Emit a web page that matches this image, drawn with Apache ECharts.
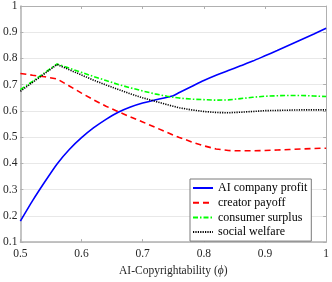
<!DOCTYPE html>
<html><head><meta charset="utf-8">
<script src="https://cdn.jsdelivr.net/npm/echarts@6/dist/echarts.min.js"></script>
<style>html,body{margin:0;padding:0;background:#fff}#c{width:332px;height:282px}</style>
</head><body><div id="c"></div>
<script>
const xValues = [0.5,0.52,0.54,0.56,0.58,0.6,0.62,0.64,0.66,0.68,0.7,0.72,0.74,0.75,0.76,0.78,0.8,0.82,0.84,0.86,0.88,0.9,0.92,0.94,0.96,0.98,1.0];
const aiProfit = [0.18,0.258,0.33,0.398,0.453,0.498,0.536,0.568,0.595,0.615,0.630,0.642,0.652,0.658,0.670,0.693,0.716,0.736,0.754,0.772,0.79,0.81,0.83,0.851,0.872,0.893,0.915];
const creatorPayoff = [0.743,0.736,0.730,0.722,0.695,0.668,0.642,0.618,0.597,0.577,0.558,0.538,0.518,0.508,0.499,0.482,0.467,0.455,0.449,0.448,0.448,0.449,0.451,0.453,0.455,0.457,0.458];
const consumerSurplus = [0.681,0.713,0.746,0.779,0.763,0.747,0.731,0.716,0.701,0.688,0.676,0.665,0.656,0.652,0.649,0.645,0.643,0.641,0.642,0.647,0.652,0.656,0.658,0.659,0.659,0.657,0.655];
const socialWelfare = [0.675,0.709,0.743,0.777,0.757,0.737,0.717,0.699,0.682,0.665,0.650,0.637,0.624,0.618,0.612,0.604,0.598,0.594,0.593,0.595,0.598,0.601,0.602,0.603,0.604,0.604,0.604];
const seriesNames = ['AI company profit','creator payoff','consumer surplus','social welfare'];
const xTickLabels = ['0.5','0.6','0.7','0.8','0.9','1'];
const yTickLabels = ['0.1','0.2','0.3','0.4','0.5','0.6','0.7','0.8','0.9','1'];

const font = 'Liberation Serif';
const axisGray = '#b0b0b0';
const pair = arr => xValues.map((x,i)=>[x,arr[i]]);

const chart = echarts.init(document.getElementById('c'));
chart.setOption({
  animation:false,
  grid:{left:18.7,right:3.3,top:5,bottom:32,containLabel:false},
  xAxis:[{
    type:'value',min:0.5,max:1,interval:0.1,
    name:'{t|AI-Copyrightability (}{i|ϕ}{t|)}',nameLocation:'middle',nameGap:20,
    nameTextStyle:{rich:{t:{fontFamily:font,fontSize:11.5,color:'#262626'},i:{fontFamily:font,fontSize:11.5,fontStyle:'italic',color:'#262626'}}},
    axisLine:{show:true,lineStyle:{color:axisGray,width:1.5}},
    axisTick:{show:true,inside:true,length:3,lineStyle:{color:axisGray}},
    axisLabel:{fontFamily:font,fontSize:11.5,color:'#262626',margin:6,formatter:v=>xTickLabels[Math.round((v-0.5)*10)]},
    splitLine:{show:false}
  },{
    type:'value',position:'top',min:0.5,max:1,interval:0.1,
    axisLine:{show:true,lineStyle:{color:axisGray,width:1}},
    axisTick:{show:true,inside:true,length:3,lineStyle:{color:axisGray}},
    axisLabel:{show:false},splitLine:{show:false}
  }],
  yAxis:[{
    type:'value',min:0.1,max:1,interval:0.1,
    axisLine:{show:true,lineStyle:{color:axisGray,width:1.5}},
    axisTick:{show:true,inside:true,length:3,lineStyle:{color:axisGray}},
    axisLabel:{fontFamily:font,fontSize:11.5,color:'#262626',margin:3,formatter:v=>yTickLabels[Math.round((v-0.1)*10)]},
    splitLine:{show:true,lineStyle:{color:'#e8e8e8',width:1}}
  },{
    type:'value',position:'right',min:0.1,max:1,interval:0.1,
    axisLine:{show:true,lineStyle:{color:axisGray,width:1}},
    axisTick:{show:true,inside:true,length:3,lineStyle:{color:axisGray}},
    axisLabel:{show:false},splitLine:{show:false}
  }],
  legend:{
    orient:'vertical',left:190,top:179,
    padding:[3,4,3,2],itemWidth:20,itemHeight:10,itemGap:2.7,
    backgroundColor:'#fff',borderColor:'#7a7a7a',borderWidth:1,
    itemStyle:{opacity:0},
    textStyle:{fontFamily:font,fontSize:12,color:'#000',lineHeight:12},
    data:seriesNames
  },
  series:[
    {name:seriesNames[0],type:'line',data:pair(aiProfit),symbol:'none',smooth:0.2,lineStyle:{color:'#0000ff',width:1.6,type:'solid'},itemStyle:{color:'#0000ff'}},
    {name:seriesNames[1],type:'line',data:pair(creatorPayoff),symbol:'none',lineStyle:{color:'#ff0000',width:1.6,type:[6,4]},itemStyle:{color:'#ff0000'}},
    {name:seriesNames[2],type:'line',data:pair(consumerSurplus),symbol:'none',lineStyle:{color:'#00ff00',width:1.6,type:[5,2,1.5,2]},itemStyle:{color:'#00ff00'}},
    {name:seriesNames[3],type:'line',data:pair(socialWelfare),symbol:'none',lineStyle:{color:'#000000',width:1.6,type:[1.2,1.2]},itemStyle:{color:'#000000'}}
  ]
});
</script></body></html>
